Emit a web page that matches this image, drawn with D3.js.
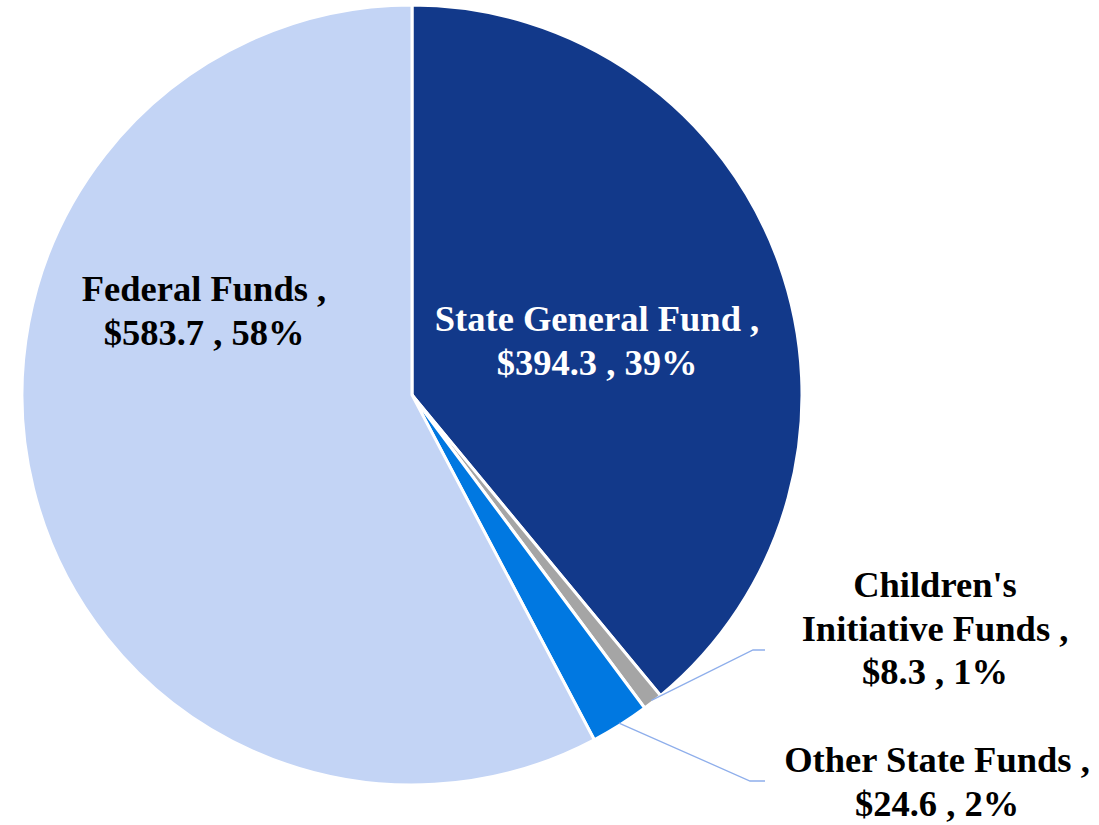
<!DOCTYPE html>
<html><head><meta charset="utf-8">
<script src="https://cdn.jsdelivr.net/npm/d3@7"></script>
<style>body{margin:0;background:#fff}svg{display:block}</style>
</head><body>
<svg id="c" width="1099" height="825"></svg>
<script>
const categories = ["State General Fund", "Children's Initiative Funds", "Other State Funds", "Federal Funds"];
const values = [394.3, 8.3, 24.6, 583.7];
const percents = ["39%", "1%", "2%", "58%"];
const colors = ["#12398A", "#A5A5A5", "#0078E1", "#C3D4F5"];
const labelLines = [
  ["State General Fund ,", "$394.3 , 39%"],
  ["Children's", "Initiative Funds ,", "$8.3 , 1%"],
  ["Other State Funds ,", "$24.6 , 2%"],
  ["Federal Funds ,", "$583.7 , 58%"]
];

const svg = d3.select("#c");
const cx = 412, cy = 395, R = 390;
const g = svg.append("g").attr("transform", `translate(${cx},${cy})`);
const data = categories.map((c, i) => ({c, v: values[i], i}));
const pie = d3.pie().value(d => d.v).sort(null);
const arcs = pie(data);
const arc = d3.arc().innerRadius(0).outerRadius(R);
g.selectAll("path").data(arcs).enter().append("path")
  .attr("d", arc).attr("fill", d => colors[d.data.i])
  .attr("stroke", "#fff").attr("stroke-width", 3).attr("stroke-linejoin", "miter");

// label placement (relative to center)
const labelPos = [
  {x: 185, y: -64, fill: "#fff"},
  {x: 523, y: 202, fill: "#000"},
  {x: 525, y: 377, fill: "#000"},
  {x: -208, y: -94, fill: "#000"}
];
const lh = 43.5;
labelLines.forEach((lines, i) => {
  const t = g.append("text").attr("text-anchor", "middle")
    .attr("font-family", "'Liberation Serif','Times New Roman',serif")
    .attr("font-weight", "bold").attr("font-size", 36.5)
    .attr("fill", labelPos[i].fill);
  lines.forEach((l, j) => t.append("tspan").attr("x", labelPos[i].x).attr("y", labelPos[i].y + j * lh).text(l));
});

// leader lines for small slices
const leaders = [
  {i: 1, elbow: [341, 255], end: [353, 255]},
  {i: 2, elbow: [338, 386], end: [353, 386]}
];
leaders.forEach(L => {
  const a = arcs[L.i];
  const mid = (a.startAngle + a.endAngle) / 2;
  const p0 = [Math.sin(mid) * (R - 2), -Math.cos(mid) * (R - 2)];
  g.append("polyline").attr("points", [p0, L.elbow, L.end].map(p => p.join(",")).join(" "))
    .attr("fill", "none").attr("stroke", "#8EAEEB").attr("stroke-width", 1.3);
});
</script>
</body></html>
